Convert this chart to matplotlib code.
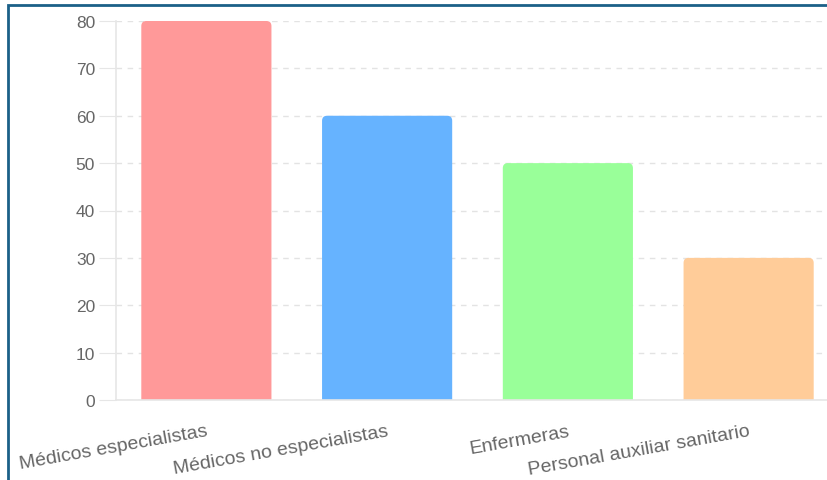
import matplotlib.pyplot as plt
from matplotlib.patches import FancyBboxPatch, Rectangle

categories = ["Médicos especialistas", "Médicos no especialistas",
              "Enfermeras", "Personal auxiliar sanitario"]
values = [80, 60, 50, 30]
colors = ["#FF9999", "#66B3FF", "#99FF99", "#FFCC99"]

W, H = 828, 481
fig = plt.figure(figsize=(W / 100, H / 100), dpi=100)
fig.patch.set_facecolor("white")
plt.rcParams["font.family"] = ["Liberation Sans", "DejaVu Sans"]

# axes box in pixels: left 116, right ~839 (runs off the canvas), top 22, bottom 401
ax = fig.add_axes([116 / W, (H - 401) / H, (839 - 116) / W, (401 - 22) / H])
ax.set_xlim(-0.5, 3.5)
ax.set_ylim(0, 80)

bars = ax.bar(range(len(values)), values, width=0.72, color=colors)

# swap bars for rounded-top versions built from the bar geometry
px_x = 4 / (839 - 116)   # data units per pixel
px_y = 80 / (401 - 22)
rad = 5
for b in bars:
    b.set_visible(False)
    x0, w, h = b.get_x(), b.get_width(), b.get_height()
    p = FancyBboxPatch(
        (x0 + rad * px_x, -rad * px_y),
        w - 2 * rad * px_x, h,
        boxstyle=f"round,pad={rad * px_x},rounding_size={rad * px_x}",
        mutation_aspect=px_y / px_x,
        facecolor=b.get_facecolor(), edgecolor="none", clip_on=True,
    )
    ax.add_patch(p)

ax.set_yticks(range(0, 81, 10))
ax.grid(axis="y", color="#e3e3e3", linestyle=(0, (4, 4)), linewidth=1)
ax.set_axisbelow(True)
for s in ["top", "right"]:
    ax.spines[s].set_visible(False)
for s in ["left", "bottom"]:
    ax.spines[s].set_color("#e6e6e6")
    ax.spines[s].set_linewidth(1.2)

ax.tick_params(axis="y", length=12, color="#e6e6e6", labelsize=12.5,
               labelcolor="#666666", pad=3)
ax.tick_params(axis="x", length=0, labelsize=14, labelcolor="#666666", pad=16)
ax.set_xticks(range(len(categories)))
ax.set_xticklabels(categories, rotation=10, ha="right", va="top",
                   rotation_mode="anchor")

# frame around the card, running off right and bottom edges
fig.add_artist(Rectangle((8 / W, -0.1), 1.2, 1 - 6 / H + 0.1,
                         transform=fig.transFigure, fill=False,
                         edgecolor="#1b6088", linewidth=2))

fig.savefig("out.png", dpi=100, facecolor="white")
